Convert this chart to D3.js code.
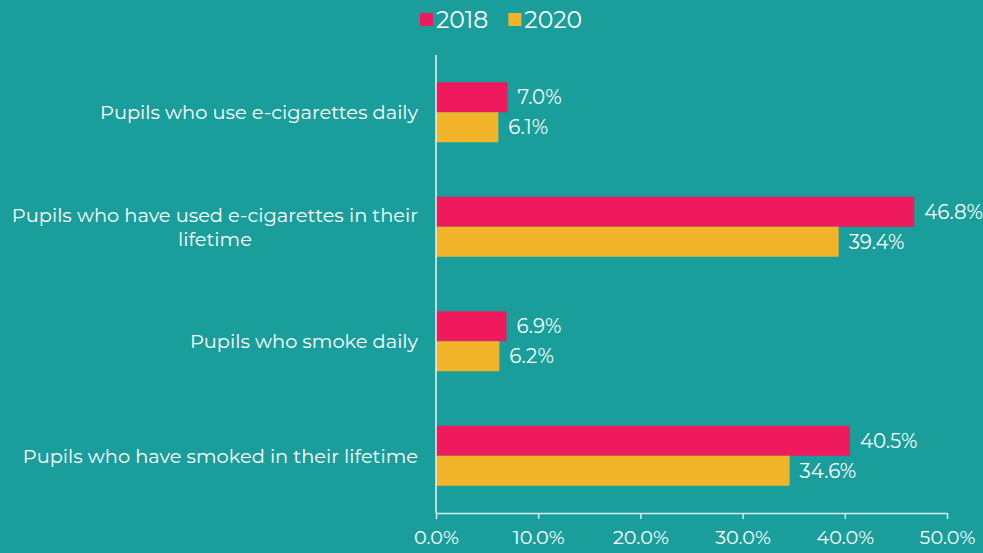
<!DOCTYPE html>
<html><head><meta charset="utf-8">
<script src="https://cdn.jsdelivr.net/npm/d3@7"></script>
<style>html,body{margin:0;padding:0;background:#199e9c;overflow:hidden}</style>
</head><body>
<svg id="c" width="983" height="553"></svg>
<script>
const categories = [
  ["Pupils who use e-cigarettes daily"],
  ["Pupils who have used e-cigarettes in their", "lifetime"],
  ["Pupils who smoke daily"],
  ["Pupils who have smoked in their lifetime"]
];
const seriesNames = ["2018", "2020"];
const values2018 = [7.0, 46.8, 6.9, 40.5];
const values2020 = [6.1, 39.4, 6.2, 34.6];
const tickValues = [0, 10, 20, 30, 40, 50];
const colors = ["#ee1a5d", "#f2b429"];

const svg = d3.select("#c");
const font = "Montserrat, 'Open Sans', Lato, sans-serif";
const m = {left: 436, right: 947, top: 55, bottom: 513};
const x = d3.scaleLinear().domain([0, 50]).range([m.left, m.right]);
const y = d3.scaleBand().domain(d3.range(categories.length)).range([m.top, m.bottom]).paddingInner(0.476).paddingOuter(0.238);
const sub = d3.scaleBand().domain([0,1]).range([0, y.bandwidth()]);
const series = [values2018, values2020];

// bars
series.forEach((vals, si) => {
  svg.append("g").selectAll("rect").data(vals).join("rect")
    .attr("x", x(0)).attr("y", (d,i) => y(i) + sub(si))
    .attr("width", d => x(d) - x(0)).attr("height", sub.bandwidth())
    .attr("fill", colors[si]);
  svg.append("g").selectAll("text").data(vals).join("text")
    .attr("x", d => x(d) + 10).attr("y", (d,i) => y(i) + sub(si) + sub.bandwidth()/2)
    .attr("dy", "0.35em").attr("fill", "#fff").attr("font-family", font).attr("font-size", 19.8)
    .text(d => d.toFixed(1) + "%");
});

// x axis
const xa = svg.append("g").attr("transform", `translate(0,${m.bottom})`)
  .call(d3.axisBottom(x).tickValues(tickValues).tickSize(6).tickSizeOuter(0).tickFormat(d => d.toFixed(1) + "%"));
xa.select(".domain").attr("stroke", "#d4ecec").attr("stroke-width", 1.5);
xa.selectAll(".tick line").attr("stroke", "#d4ecec").attr("stroke-width", 1.5);
xa.selectAll(".tick text").attr("fill", "#fff").attr("font-family", font).attr("font-size", 19.2).attr("dy", "1.15em");

// y axis line
svg.append("line").attr("x1", m.left).attr("x2", m.left).attr("y1", m.top).attr("y2", m.bottom)
  .attr("stroke", "#e8f5f5").attr("stroke-width", 1.5);

// category labels
const lab = svg.append("g");
categories.forEach((lines, i) => {
  const cy = y(i) + y.bandwidth()/2;
  const lh = 24;
  const t = lab.append("text").attr("font-family", font).attr("font-size", 19.4).attr("fill", "#fff");
  lines.forEach((ln, j) => {
    t.append("tspan").attr("x", 0).attr("y", cy + (j - (lines.length-1)/2) * lh).attr("dy", "0.35em").text(ln);
  });
  const spans = t.selectAll("tspan").nodes();
  const widths = spans.map(s => s.getComputedTextLength());
  const w = d3.max(widths);
  const center = 418 - w/2;
  t.selectAll("tspan").attr("x", center).attr("text-anchor", "middle");
});

// legend
const lg = svg.append("g").attr("font-family", font).attr("font-size", 23.5).attr("fill", "#fff");
let lx = 420;
seriesNames.forEach((n, i) => {
  lg.append("rect").attr("x", lx).attr("y", 13).attr("width", 13).attr("height", 13).attr("fill", colors[i]);
  const tt = lg.append("text").attr("x", lx + 16).attr("y", 20).attr("dy", "0.35em").text(n);
  lx += 16 + tt.node().getComputedTextLength() + 20;
});
</script>
</body></html>
